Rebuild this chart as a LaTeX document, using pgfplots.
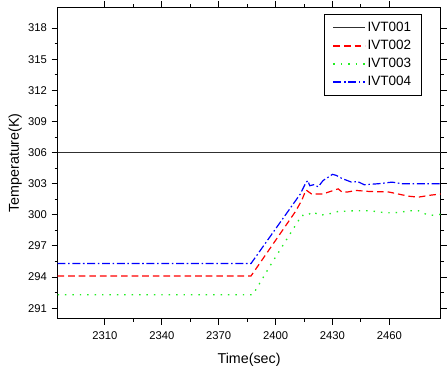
\documentclass[border=0pt]{standalone}
\usepackage{pgfplots}
\pgfplotsset{compat=1.18}
\usepackage{fontspec}
\setmainfont{Liberation Sans}
\definecolor{dgray}{HTML}{303030}
\definecolor{lgreen}{HTML}{22EE22}
\begin{document}
\begin{tikzpicture}
\begin{axis}[
  name=main,
  scale only axis,
  width=289.5pt, height=235.3pt,
  xmin=2285, xmax=2487,
  ymin=290, ymax=320,
  xtick={2310,2340,2370,2400,2430,2460},
  ytick={291,294,297,300,303,306,309,312,315,318},
  minor x tick num=1,
  minor y tick num=1,
  tick align=outside,
  major tick length=4.5pt,
  minor tick length=2.3pt,
  axis line style={line width=0.9pt},
  every tick/.style={line width=0.7pt, black},
  /pgf/number format/assume math mode=true,
  /pgf/number format/set thousands separator={},
  tick label style={font=\fontsize{8.5}{10}\selectfont},
  xticklabel style={yshift=-1.5pt},
  label style={font=\fontsize{10.8}{13}\selectfont},
  xlabel={Time(sec)},
  ylabel={Temperature(K)},
  xlabel style={yshift=-4pt},
  ylabel style={yshift=-2pt},
  legend style={at={(rel axis cs:0.951,0.979)}, anchor=north east,
    draw=black, line width=0.8pt, font=\fontsize{10.2}{12}\selectfont,
    inner xsep=6.5pt, inner ysep=4pt, row sep=1.5pt,
    nodes={inner sep=1.2pt, text height=7.6pt, text depth=2.2pt}},
  legend cell align=left,
  legend image code/.code={\draw[#1, line width=1.15pt] (0pt,0pt) -- (24pt,0pt);},
]
\addplot[dgray, line width=1.4pt] coordinates {(2285,306) (2487,306)};
\addlegendentry{IVT001}
\addplot[red, line width=0.9pt, dash pattern=on 5pt off 3pt] coordinates {
(2285,294.1) (2387,294.1) (2410.4,300.3) (2413.8,301.4) (2416,302.4) (2419,302.0)
(2425,302.0) (2428,302.2) (2433,302.5) (2435,302.2) (2438,302.2) (2442.3,302.35)
(2449.3,302.25) (2459.6,302.2) (2464.8,302.0) (2469.9,301.8) (2475.2,301.7)
(2482,301.9) (2487,302.0)};
\addlegendentry{IVT002}
\addplot[lgreen, line width=1pt, dash pattern=on 1.1pt off 4.5pt] coordinates {
(2285,292.3) (2388,292.3) (2397.3,295.15) (2413.8,299.95) (2416.4,299.9)
(2419.5,300.3) (2423.3,299.95) (2428.5,300.1) (2432,300.3) (2442.3,300.4)
(2449.3,300.4) (2457.9,300.2) (2463,300.2) (2471.7,300.4) (2475.2,300.4)
(2478.7,300.1) (2482,299.95) (2487,300.05)};
\addlegendentry{IVT003}
\addplot[blue, line width=0.9pt, dash pattern=on 6pt off 2pt on 1.2pt off 2pt] coordinates {
(2285,295.3) (2387,295.3) (2413,302.0) (2416,303.1) (2417,303.3) (2418,302.8)
(2420,302.9) (2422.5,302.7) (2425,303.3) (2430,303.9) (2432,303.8) (2435,303.5)
(2440,303.15) (2443.3,303.2) (2446.7,302.9) (2454.5,303.0) (2461.4,303.15)
(2466.6,303.0) (2473.5,303.0) (2487,303.0)};
\addlegendentry{IVT004}
\end{axis}
\path (main.south west) ++(-43.5pt,-37.5pt) coordinate (bl);
\path (main.north east) ++(2pt,5.5pt) coordinate (tr);
\path (bl) rectangle (tr);
\end{tikzpicture}
\end{document}
